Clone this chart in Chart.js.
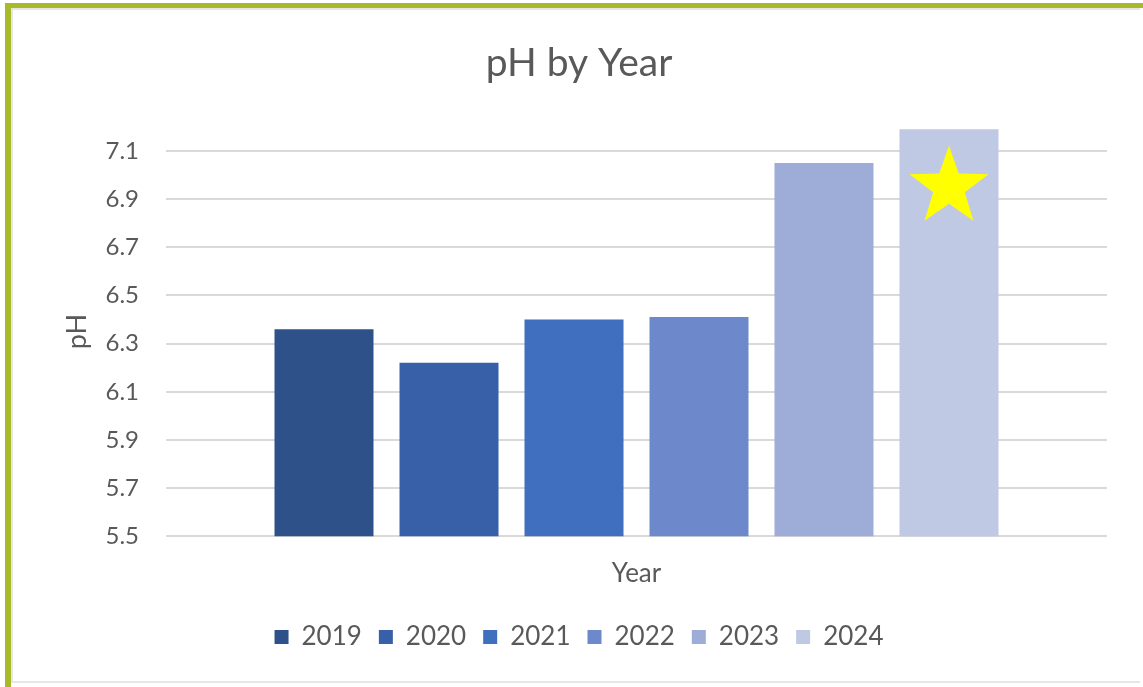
<!DOCTYPE html>
<html>
<head>
<meta charset="utf-8">
<script src="https://cdn.jsdelivr.net/npm/chart.js@4/dist/chart.umd.min.js"></script>
<style>
  html, body { margin: 0; padding: 0; background: #ffffff; }
  body { width: 1143px; height: 687px; position: relative; overflow: hidden; }
  #frame {
    position: absolute; left: 5px; top: 3px; width: 1132px; height: 680px;
    border-left: 6px solid #A8BA2A; border-top: 5px solid #A8BA2A;
    border-bottom: 2px solid #A8BA2A; border-right: 3px solid #dcdcdc;
    box-sizing: content-box;
  }
  #inner {
    position: absolute; left: 11px; top: 8px; width: 1129px; height: 675px;
    border-left: 2px solid #e6e6e6; border-top: 2px solid #e6e6e6; border-bottom: 2px solid #e6e6e6;
    box-sizing: border-box;
  }
  #wrap { position: absolute; left: 11px; top: 8px; width: 1129px; height: 677px; }
</style>
</head>
<body>
<div id="frame"></div>
<div id="inner"></div>
<div id="wrap"><canvas id="c"></canvas></div>
<script>
const years = ['2019', '2020', '2021', '2022', '2023', '2024'];
const phValues = [6.36, 6.22, 6.40, 6.41, 7.05, 7.19];
const barColors = ['#2F5189', '#3760A8', '#3F6FBE', '#6D89CB', '#9DADD8', '#BFC9E4'];
const yTicks = [5.5, 5.7, 5.9, 6.1, 6.3, 6.5, 6.7, 6.9, 7.1];
const yMin = 5.5;
const yMax = 7.2;
const starYear = '2024';
const starValue = 6.95;

const FONT = 'Lato, "Open Sans", sans-serif';
const GREY = '#595959';

const starPlugin = {
  id: 'star',
  afterDatasetsDraw(chart) {
    const idx = years.indexOf(starYear);
    const meta = chart.getDatasetMeta(idx);
    if (!meta || !meta.data[0]) return;
    const bar = meta.data[0];
    const cx = bar.x;
    const cy = chart.scales.y.getPixelForValue(starValue);
    const R = bar.width * 0.42;
    const r = R * 0.40;
    const ctx = chart.ctx;
    ctx.save();
    ctx.beginPath();
    for (let i = 0; i < 10; i++) {
      const rad = (i % 2 === 0) ? R : r;
      const a = -Math.PI / 2 + i * Math.PI / 5;
      const px = cx + rad * Math.cos(a);
      const py = cy + rad * Math.sin(a);
      if (i === 0) ctx.moveTo(px, py); else ctx.lineTo(px, py);
    }
    ctx.closePath();
    ctx.fillStyle = '#FFFF00';
    ctx.fill();
    ctx.restore();
  }
};

new Chart(document.getElementById('c'), {
  type: 'bar',
  data: {
    labels: [''],
    datasets: years.map((y, i) => ({
      label: y,
      data: [phValues[i]],
      backgroundColor: barColors[i],
      borderWidth: 0,
      categoryPercentage: 0.797,
      barPercentage: 0.792
    }))
  },
  plugins: [starPlugin],
  options: {
    responsive: true,
    maintainAspectRatio: false,
    animation: false,
    layout: { padding: { top: 0, left: 40, right: 33, bottom: 25 } },
    plugins: {
      title: {
        display: true,
        text: 'pH by Year',
        color: GREY,
        font: { family: FONT, size: 39, weight: 'normal' },
        padding: { top: 32, bottom: 40 }
      },
      legend: {
        position: 'bottom',
        labels: {
          color: GREY,
          font: { family: FONT, size: 26 },
          boxWidth: 14,
          boxHeight: 14,
          padding: 17
        }
      },
      tooltip: { enabled: false }
    },
    scales: {
      x: {
        grid: { display: false },
        border: { display: false },
        ticks: { display: false },
        afterFit(scale) { scale.height = 70.7; },
        title: {
          display: true,
          text: 'Year',
          color: GREY,
          font: { family: FONT, size: 26 },
          padding: { top: 10, bottom: 17.4 }
        }
      },
      y: {
        min: yMin,
        max: yMax,
        afterBuildTicks(scale) {
          scale.ticks = yTicks.map(v => ({ value: v }));
        },
        afterFit(scale) { scale.width = 115; },
        ticks: {
          color: GREY,
          font: { family: FONT, size: 24 },
          padding: 27,
          callback: v => Number(v).toFixed(1)
        },
        grid: { color: '#D9D9D9', lineWidth: 2, drawTicks: false },
        border: { display: false },
        title: {
          display: true,
          text: 'pH',
          color: GREY,
          font: { family: FONT, size: 27 },
          padding: { top: 10, bottom: 11 }
        }
      }
    }
  }
});
</script>
</body>
</html>
